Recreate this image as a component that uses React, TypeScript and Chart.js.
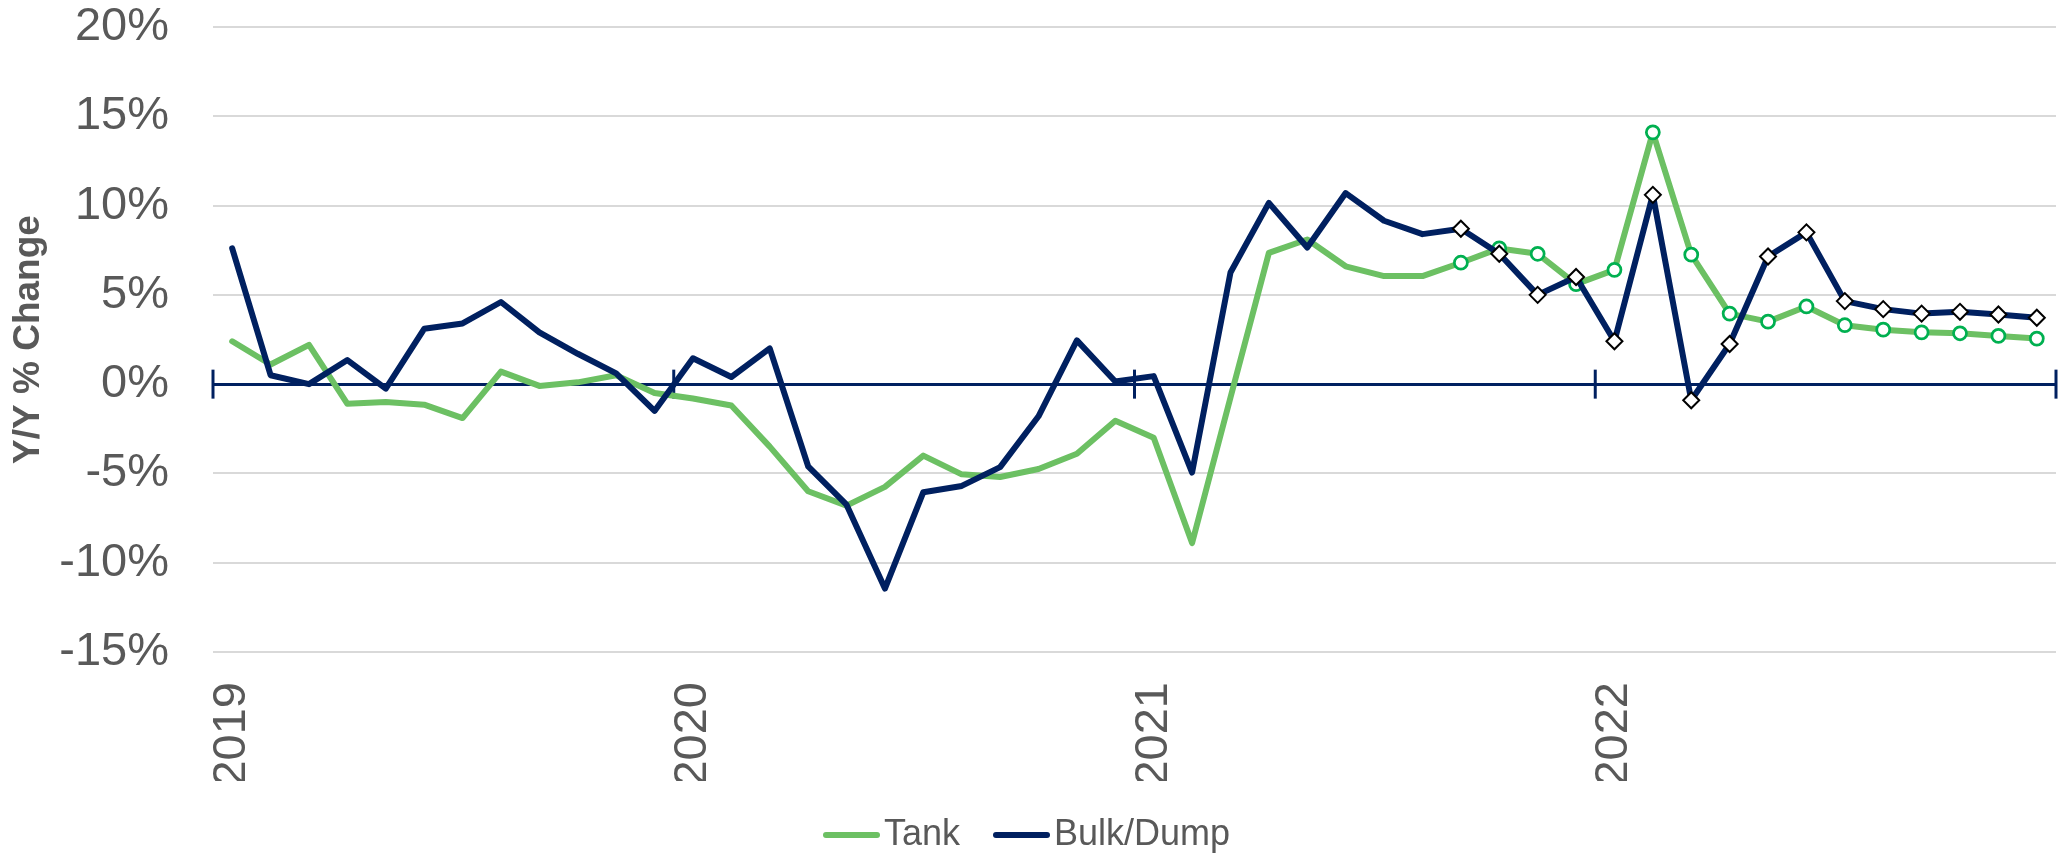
import { useEffect, useRef } from "react";
import { Chart, registerables } from "chart.js";

Chart.register(...registerables);

const categories = [
  "2019-01", "2019-02", "2019-03", "2019-04", "2019-05", "2019-06", "2019-07", "2019-08", "2019-09", "2019-10", "2019-11", "2019-12",
  "2020-01", "2020-02", "2020-03", "2020-04", "2020-05", "2020-06", "2020-07", "2020-08", "2020-09", "2020-10", "2020-11", "2020-12",
  "2021-01", "2021-02", "2021-03", "2021-04", "2021-05", "2021-06", "2021-07", "2021-08", "2021-09", "2021-10", "2021-11", "2021-12",
  "2022-01", "2022-02", "2022-03", "2022-04", "2022-05", "2022-06", "2022-07", "2022-08", "2022-09", "2022-10", "2022-11", "2022-12",
];

const tankValues = [
  2.4, 1.1, 2.2, -1.1, -1.0, -1.15, -1.9, 0.7, -0.1, 0.1, 0.5, -0.5,
  -0.8, -1.2, -3.5, -6.0, -6.8, -5.75, -4.0, -5.05, -5.2, -4.75, -3.9, -2.05,
  -3.0, -8.9, -0.75, 7.35, 8.1, 6.6, 6.05, 6.05, 6.8, 7.6, 7.3, 5.6,
  6.4, 14.1, 7.25, 3.95, 3.5, 4.35, 3.3, 3.05, 2.9, 2.85, 2.7, 2.55,
];

const bulkDumpValues = [
  7.6, 0.5, 0.0, 1.35, -0.25, 3.1, 3.4, 4.6, 2.9, 1.7, 0.6, -1.5,
  1.45, 0.4, 2.0, -4.6, -6.75, -11.45, -6.05, -5.7, -4.65, -1.8, 2.45, 0.15,
  0.45, -4.95, 6.25, 10.15, 7.65, 10.7, 9.15, 8.4, 8.7, 7.3, 5.0, 6.0,
  2.4, 10.6, -0.9, 2.25, 7.15, 8.5, 4.65, 4.2, 3.95, 4.05, 3.9, 3.72,
];

const seriesNames = ["Tank", "Bulk/Dump"];
const yearLabels = ["2019", "2020", "2021", "2022"];
const markerStartCategory = "2021-09";
const yMin = -15;
const yMax = 20;
const yStep = 5;
const yAxisTitle = "Y/Y % Change";

const TANK_LINE = "#6cc063";
const TANK_MARKER = "#00b050";
const NAVY = "#002060";
const TEXT = "#595959";
const GRID = "#d9d9d9";
const FONT = "'Liberation Sans', Arial, sans-serif";

function legendLineImage(color: string): HTMLCanvasElement {
  const c = document.createElement("canvas");
  c.width = 68;
  c.height = 8;
  const g = c.getContext("2d")!;
  g.strokeStyle = color;
  g.lineWidth = 6;
  g.lineCap = "round";
  g.beginPath();
  g.moveTo(14, 4);
  g.lineTo(65, 4);
  g.stroke();
  return c;
}

export default function App() {
  const canvasRef = useRef<HTMLCanvasElement | null>(null);

  useEffect(() => {
    const prevMargin = document.body.style.margin;
    document.body.style.margin = "0";
    const canvas = canvasRef.current;
    if (!canvas) return;

    const markerStart = categories.indexOf(markerStartCategory);
    const yearStartIdx = categories
      .map((c, i) => (c.endsWith("-01") ? i : -1))
      .filter((i) => i >= 0);

    const legendImages = [legendLineImage(TANK_LINE), legendLineImage(NAVY)];

    const yearTicksPlugin = {
      id: "yearTicks",
      beforeDatasetsDraw(chart: any) {
        const xs = chart.scales.x;
        const ys = chart.scales.y;
        const ctx = chart.ctx;
        const y0 = ys.getPixelForValue(0);
        const half = (xs.getPixelForValue(1) - xs.getPixelForValue(0)) / 2;
        const xsPos = yearStartIdx.map((i) => xs.getPixelForValue(i) - half);
        xsPos.push(xs.getPixelForValue(categories.length - 1) + half);
        ctx.save();
        ctx.strokeStyle = NAVY;
        ctx.lineWidth = 3;
        for (const px of xsPos) {
          ctx.beginPath();
          ctx.moveTo(px, y0 - 14.5);
          ctx.lineTo(px, y0 + 14.5);
          ctx.stroke();
        }
        ctx.restore();
      },
    };

    const chart = new Chart(canvas, {
      type: "line",
      data: {
        labels: categories,
        datasets: [
          {
            label: seriesNames[0],
            data: tankValues,
            borderColor: TANK_LINE,
            backgroundColor: TANK_LINE,
            borderWidth: 6,
            borderJoinStyle: "round",
            borderCapStyle: "round",
            tension: 0,
            order: 2,
            pointStyle: "circle",
            pointRadius: (c: any) => (c.dataIndex >= markerStart ? 6.5 : 0),
            pointHoverRadius: (c: any) => (c.dataIndex >= markerStart ? 6.5 : 0),
            pointBackgroundColor: "#ffffff",
            pointBorderColor: TANK_MARKER,
            pointBorderWidth: 2.75,
          },
          {
            label: seriesNames[1],
            data: bulkDumpValues,
            borderColor: NAVY,
            backgroundColor: NAVY,
            borderWidth: 6,
            borderJoinStyle: "round",
            borderCapStyle: "round",
            tension: 0,
            order: 1,
            pointStyle: "rectRot",
            pointRadius: (c: any) => (c.dataIndex >= markerStart ? 8 : 0),
            pointHoverRadius: (c: any) => (c.dataIndex >= markerStart ? 8 : 0),
            pointBackgroundColor: "#ffffff",
            pointBorderColor: "#000000",
            pointBorderWidth: 2,
          },
        ],
      },
      options: {
        responsive: false,
        devicePixelRatio: 1,
        animation: false,
        layout: { padding: { left: 0, right: 11, top: 27, bottom: -8 } },
        plugins: {
          tooltip: { enabled: false },
          legend: {
            position: "bottom",
            align: "center",
            labels: {
              usePointStyle: true,
              pointStyleWidth: 40,
              padding: 36,
              color: TEXT,
              font: { family: FONT, size: 36 },
              generateLabels: (ch: any) =>
                ch.data.datasets.map((ds: any, i: number) => ({
                  text: ds.label,
                  fillStyle: ds.borderColor,
                  strokeStyle: ds.borderColor,
                  lineWidth: 0,
                  pointStyle: legendImages[i],
                  hidden: false,
                  datasetIndex: i,
                  fontColor: TEXT,
                })),
            },
          },
        },
        scales: {
          x: {
            type: "category",
            offset: true,
            grid: { display: false, drawTicks: false },
            border: { display: false },
            afterFit: (scale: any) => {
              scale.height = 129;
              scale.paddingLeft = 0;
              scale.paddingRight = 0;
              scale.paddingTop = 0;
              scale.paddingBottom = 0;
            },
            ticks: {
              autoSkip: false,
              minRotation: 90,
              maxRotation: 90,
              padding: 30,
              color: TEXT,
              font: { family: FONT, size: 47 },
              callback: (_v: any, idx: number) => {
                const cat = categories[idx];
                const y = cat.slice(0, 4);
                return cat.endsWith("-01") && yearLabels.includes(y) ? y : "";
              },
            },
          },
          y: {
            min: yMin,
            max: yMax,
            afterFit: (scale: any) => {
              scale.width = 213;
              scale.paddingTop = 0;
              scale.paddingBottom = 0;
              scale.paddingLeft = 0;
              scale.paddingRight = 0;
            },
            border: { display: false },
            grid: {
              drawTicks: false,
              color: (c: any) => (c.tick && c.tick.value === 0 ? NAVY : GRID),
              lineWidth: (c: any) => (c.tick && c.tick.value === 0 ? 3 : 2),
            },
            ticks: {
              stepSize: yStep,
              padding: 44,
              color: TEXT,
              font: { family: FONT, size: 47 },
              callback: (v: any) => `${v}%`,
            },
            title: {
              display: true,
              text: yAxisTitle,
              color: TEXT,
              font: { family: FONT, size: 37, weight: "bold" },
              padding: { top: 7, bottom: 0 },
            },
          },
        },
      },
      plugins: [yearTicksPlugin],
    } as any);

    return () => {
      chart.destroy();
      document.body.style.margin = prevMargin;
    };
  }, []);

  return (
    <div style={{ position: "fixed", left: 0, top: 0, width: 2067, height: 855, background: "#ffffff" }}>
      <canvas ref={canvasRef} width={2067} height={855} style={{ display: "block", width: 2067, height: 855 }} />
    </div>
  );
}
